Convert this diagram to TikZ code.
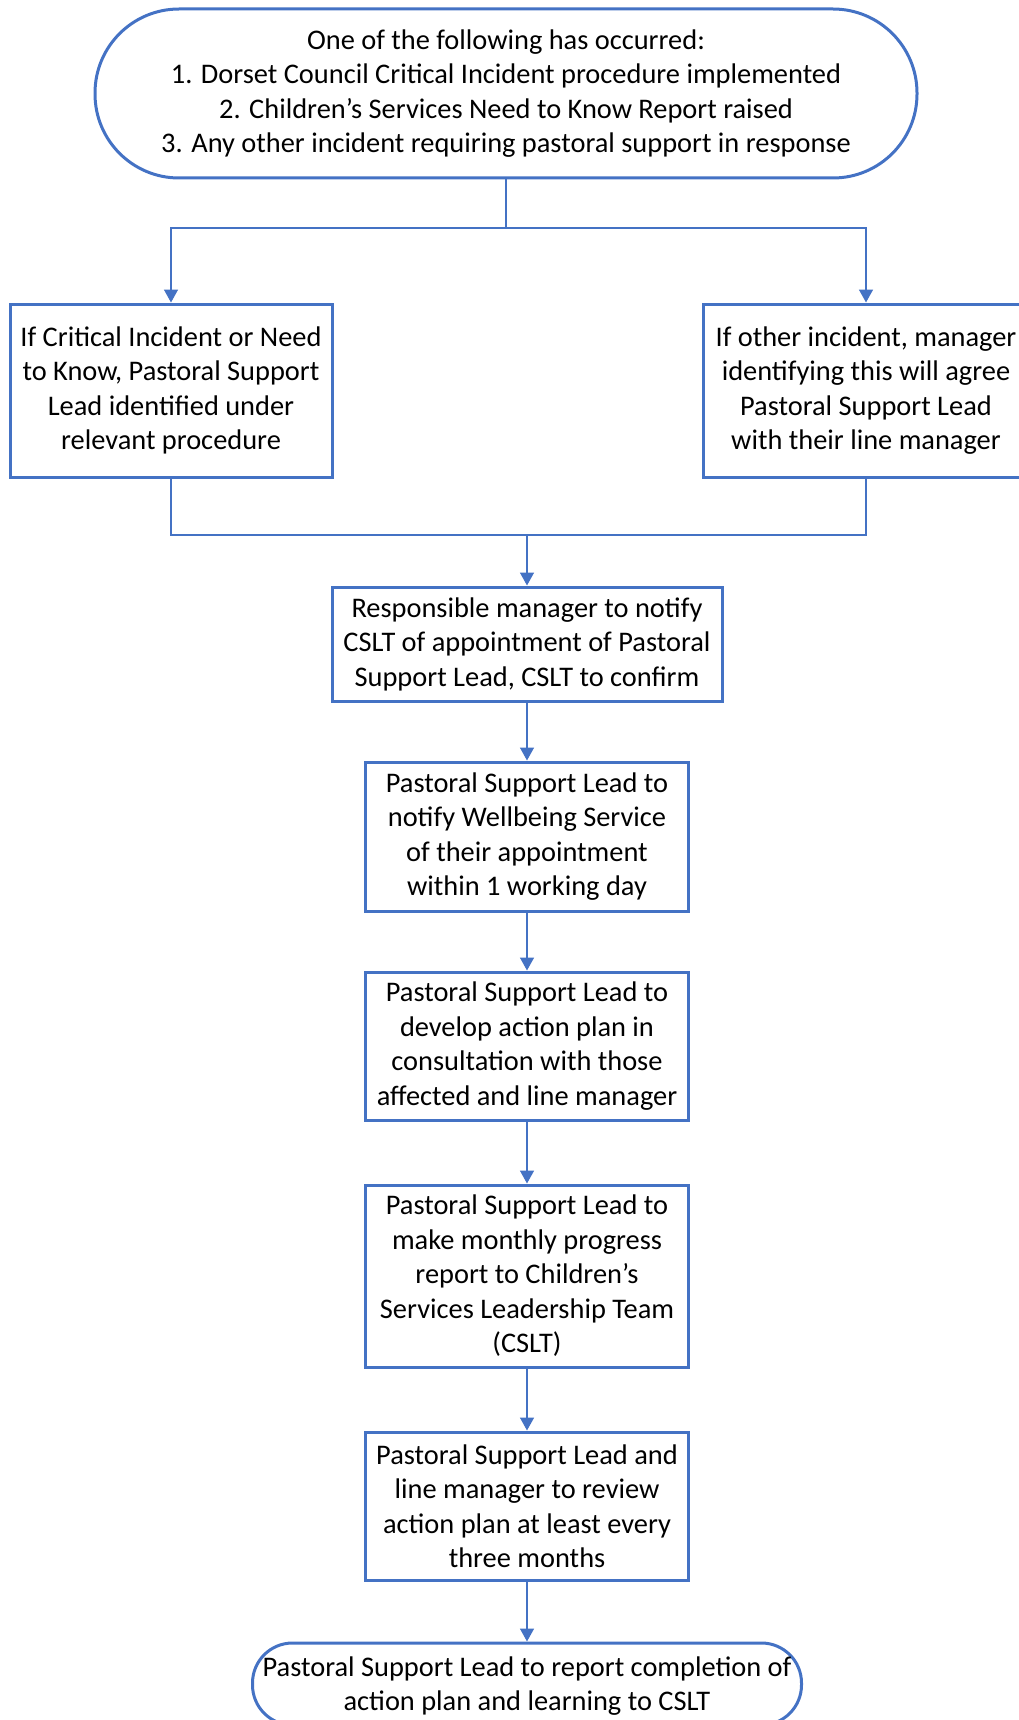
\documentclass[tikz,border=0pt]{standalone}
\usepackage{fontspec}
\setmainfont{Carlito}
\usetikzlibrary{arrows.meta}
\definecolor{oblue}{HTML}{4472C4}
\tikzset{
  box/.style={draw=oblue, line width=3pt, rectangle, align=center, inner sep=0pt,
    font=\fontsize{28.4}{34.5}\selectfont, text=black},
  term/.style={box, rounded corners=#1},
  conn/.style={draw=oblue, line width=1.6pt},
  arr/.style={conn, -{Triangle[width=14pt,length=13pt]}}
}
\begin{document}
\begin{tikzpicture}[x=1pt,y=-1pt]
\useasboundingbox (0,0) rectangle (1018,1720);
\node[term=84pt, minimum width=822pt, minimum height=169pt] (top) at (506,93.5)
  {One of the following has occurred:\\1. Dorset Council Critical Incident procedure implemented\\2. Children’s Services Need to Know Report raised\\3. Any other incident requiring pastoral support in response};
\node[box, minimum width=322pt, minimum height=173pt] (left) at (171,390.5)
  {If Critical Incident or Need\\to Know, Pastoral Support\\Lead identified under\\relevant procedure};
\node[box, minimum width=326pt, minimum height=173pt] (right) at (866,390.5)
  {If other incident, manager\\identifying this will agree\\Pastoral Support Lead\\with their line manager};
\node[box, minimum width=390pt, minimum height=114pt] (b3) at (527,644)
  {Responsible manager to notify\\CSLT of appointment of Pastoral\\Support Lead, CSLT to confirm};
\node[box, minimum width=323pt, minimum height=149pt] (b4) at (527,836.5)
  {Pastoral Support Lead to\\notify Wellbeing Service\\of their appointment\\within 1 working day};
\node[box, minimum width=323pt, minimum height=148pt] (b5) at (527,1046)
  {Pastoral Support Lead to\\develop action plan in\\consultation with those\\affected and line manager};
\node[box, minimum width=323pt, minimum height=182pt] (b6) at (527,1276)
  {Pastoral Support Lead to\\make monthly progress\\report to Children’s\\Services Leadership Team\\(CSLT)};
\node[box, minimum width=323pt, minimum height=148pt] (b7) at (527,1506)
  {Pastoral Support Lead and\\line manager to review\\action plan at least every\\three months};
\node[term=40pt, minimum width=549pt, minimum height=82pt] (b8) at (527,1684) {};
\node[font=\fontsize{28.4}{34.5}\selectfont, align=center, inner sep=0pt] (b8t) at (527,1686)
  {Pastoral Support Lead to report completion of\\action plan and learning to CSLT};
\coordinate (j1) at (506,228);
\coordinate (j2) at (527,535);
\draw[conn] (top.south) -- (j1);
\draw[arr] (j1) -| (left.north);
\draw[arr] (j1) -| (right.north);
\draw[conn] (left.south) |- (j2);
\draw[conn] (right.south) |- (j2);
\draw[arr] (j2) -- (b3.north);
\draw[arr] (b3) -- (b4);
\draw[arr] (b4) -- (b5);
\draw[arr] (b5) -- (b6);
\draw[arr] (b6) -- (b7);
\draw[arr] (b7) -- (b8);
\end{tikzpicture}
\end{document}
